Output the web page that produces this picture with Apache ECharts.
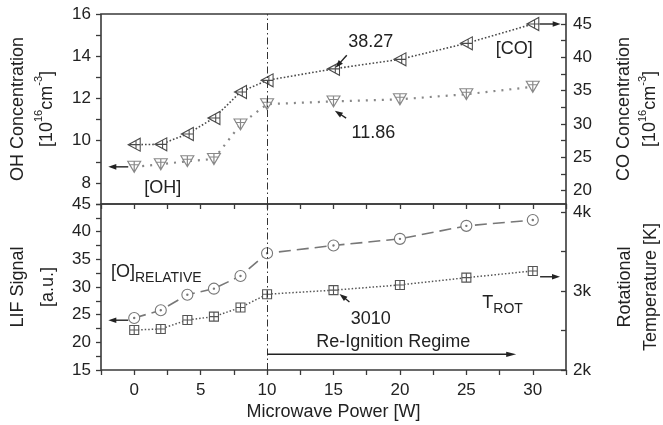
<!DOCTYPE html>
<html><head><meta charset="utf-8">
<script src="https://cdn.jsdelivr.net/npm/echarts@6/dist/echarts.min.js"></script>
<style>html,body{margin:0;padding:0;background:#fff}#c{width:663px;height:425px}</style>
</head><body><div id="c"></div>
<script>
// ---- data ----
const power = [0, 2, 4, 6, 8, 10, 15, 20, 25, 30];
const ohConc = [8.76, 8.88, 9.03, 9.13, 10.77, 11.73, 11.86, 11.96, 12.2, 12.55];
const coConc = [26.9, 26.95, 28.5, 30.9, 34.8, 36.55, 38.27, 39.7, 42.1, 45.0];
const oRel = [24.4, 25.8, 28.6, 29.7, 32.0, 36.1, 37.5, 38.7, 41.05, 42.1];
const tRot = [2506, 2519, 2633, 2675, 2791, 2959, 3010, 3076, 3168, 3253];
const xTickLabels = [0, 5, 10, 15, 20, 25, 30];
const ohTickLabels = [8, 10, 12, 14, 16];
const coTickLabels = [20, 25, 30, 35, 40, 45];
const coMinorTicks = [20, 22.5, 25, 27.5, 30, 32.5, 35, 37.5, 40, 42.5, 45];
const lifTickLabels = [15, 20, 25, 30, 35, 40, 45];
const tTickLabels = [2000, 3000, 4000];
const tMinorTicks = [2000, 2500, 3000, 3500, 4000];
const regimeStart = 10;

const FONT = '"Liberation Sans", Arial, Helvetica, sans-serif';
const TXT = '#222';
const FRAME = '#3a3a3a';

const sym = {
  triL: 'path://M10,0 L10,10 L0,5 Z M1,5 L10,5 M6.5,2 L6.5,8',
  triD: 'path://M0,0 L10,0 L5,10 Z M5,0 L5,10 M1,3.2 L9,3.2',
  sq: 'path://M0,0 L10,0 L10,10 L0,10 Z M5,0 L5,10 M0,5 L10,5',
  circ: 'path://M10,5 A5,5 0 1,1 0,5 A5,5 0 1,1 10,5 Z M5.6,5 A0.6,0.6 0 1,1 4.4,5 A0.6,0.6 0 1,1 5.6,5 Z'
};

const chart = echarts.init(document.getElementById('c'), null, {renderer: 'canvas'});

const gridStyle = {show: true, borderColor: FRAME, borderWidth: 1.6, backgroundColor: 'transparent',
  containLabel: false, outerBoundsMode: 'none'};
const labelStyle = {color: TXT, fontSize: 17, fontFamily: FONT};
const noLine = {show: false, onZero: false};
function rich(lh) {
  return {
    a: {fontSize: 18, fontFamily: FONT, color: TXT, lineHeight: lh},
    s: {fontSize: 11, fontFamily: FONT, color: TXT, lineHeight: 11, verticalAlign: 'top'}
  };
}

const option = {
  animation: false,
  backgroundColor: '#fff',
  textStyle: {fontFamily: FONT},
  grid: [
    Object.assign({left: 101, right: 97, top: 14, height: 190}, gridStyle),
    Object.assign({left: 101, right: 97, top: 204, height: 166}, gridStyle)
  ],
  xAxis: [
    {gridIndex: 0, type: 'value', min: -2.5, max: 32.5, interval: 2.5,
     axisLine: noLine, axisTick: {show: false}, axisLabel: {show: false}, splitLine: {show: false}},
    {gridIndex: 1, type: 'value', position: 'bottom', min: -2.5, max: 32.5, interval: 2.5,
     axisLine: noLine, splitLine: {show: false},
     axisTick: {show: true, inside: false, length: 5, lineStyle: {color: FRAME, width: 1.3}},
     axisLabel: Object.assign({margin: 12, formatter: v => xTickLabels.includes(v) ? String(v) : ''}, labelStyle),
     name: 'Microwave Power [W]', nameLocation: 'middle', nameGap: 33,
     nameTextStyle: {fontSize: 18, color: TXT, fontFamily: FONT}},
    {gridIndex: 1, type: 'value', position: 'top', min: -2.5, max: 32.5, interval: 2.5,
     axisLine: noLine, splitLine: {show: false}, axisLabel: {show: false},
     axisTick: {show: true, inside: true, length: 5, lineStyle: {color: FRAME, width: 1.3}}}
  ],
  yAxis: [
    {gridIndex: 0, type: 'value', position: 'left', min: 7, max: 16, interval: 1,
     axisLine: noLine, splitLine: {show: false},
     axisTick: {show: true, inside: false, length: 5, lineStyle: {color: FRAME, width: 1.3}},
     axisLabel: Object.assign({margin: 10, formatter: v => ohTickLabels.includes(v) ? String(v) : ''}, labelStyle),
     name: '{a|OH Concentration}\n{a|[10}{s|16}{a|cm}{s|-3}{a|]}', nameLocation: 'middle', nameRotate: 90, nameGap: 39,
     nameTextStyle: {rich: rich(29), align: 'center'}},
    {gridIndex: 0, type: 'value', position: 'right', min: 18, max: 46.5,
     axisLine: noLine, splitLine: {show: false},
     axisTick: {show: true, inside: true, length: 5, customValues: coMinorTicks, lineStyle: {color: FRAME, width: 1.3}},
     axisLabel: Object.assign({margin: 7, customValues: coTickLabels}, labelStyle),
     name: '{a|CO Concentration}\n{a|[10}{s|16}{a|cm}{s|-3}{a|]}', nameLocation: 'middle', nameRotate: 90, nameGap: 45,
     nameTextStyle: {rich: rich(26), align: 'center'}},
    {gridIndex: 1, type: 'value', position: 'left', min: 15, max: 45, interval: 2.5,
     axisLine: noLine, splitLine: {show: false},
     axisTick: {show: true, inside: false, length: 5, lineStyle: {color: FRAME, width: 1.3}},
     axisLabel: Object.assign({margin: 10, formatter: v => lifTickLabels.includes(v) ? String(v) : ''}, labelStyle),
     name: '{a|LIF Signal}\n{a|[a.u.]}', nameLocation: 'middle', nameRotate: 90, nameGap: 38,
     nameTextStyle: {rich: rich(30), align: 'center'}},
    {gridIndex: 1, type: 'value', position: 'right', min: 2000, max: 4100,
     axisLine: noLine, splitLine: {show: false},
     axisTick: {show: true, inside: true, length: 5, customValues: tMinorTicks, lineStyle: {color: FRAME, width: 1.3}},
     axisLabel: Object.assign({margin: 7, customValues: tTickLabels, formatter: v => (v / 1000) + 'k'}, labelStyle),
     name: '{a|Rotational}\n{a|Temperature [K]}', nameLocation: 'middle', nameRotate: 90, nameGap: 46,
     nameTextStyle: {rich: rich(26), align: 'center'}}
  ],
  series: [
    {name: 'CO', type: 'line', xAxisIndex: 0, yAxisIndex: 1, z: 3,
     data: power.map((x, i) => [x, coConc[i]]),
     symbol: sym.triL, symbolSize: [12, 13],
     lineStyle: {color: '#4a4a4a', width: 1.6, type: [1.6, 2]},
     itemStyle: {color: '#fff', borderColor: '#4a4a4a', borderWidth: 1.1}},
    {name: 'OH', type: 'line', xAxisIndex: 0, yAxisIndex: 0, z: 3,
     data: power.map((x, i) => [x, ohConc[i]]),
     symbol: sym.triD, symbolSize: [13, 11],
     lineStyle: {color: '#888', width: 2.2, type: [2, 6]},
     itemStyle: {color: '#fff', borderColor: '#888', borderWidth: 1.1},
     markLine: {silent: true, symbol: 'none', label: {show: false},
       lineStyle: {color: '#333', width: 1, type: [7, 3, 1.5, 3]}, data: [{xAxis: regimeStart}]}},
    {name: 'O', type: 'line', xAxisIndex: 1, yAxisIndex: 2, z: 3,
     data: power.map((x, i) => [x, oRel[i]]),
     symbol: sym.circ, symbolSize: 11,
     lineStyle: {color: '#777', width: 1.6, type: [12, 6]},
     itemStyle: {color: '#fff', borderColor: '#777', borderWidth: 1.1}},
    {name: 'T', type: 'line', xAxisIndex: 1, yAxisIndex: 3, z: 3,
     data: power.map((x, i) => [x, tRot[i]]),
     symbol: sym.sq, symbolSize: 9,
     lineStyle: {color: '#555', width: 1.5, type: [1.5, 2]},
     itemStyle: {color: '#fff', borderColor: '#555', borderWidth: 1.1},
     markLine: {silent: true, symbol: 'none', label: {show: false},
       lineStyle: {color: '#333', width: 1, type: [7, 3, 1.5, 3]}, data: [{xAxis: regimeStart}]}}
  ]
};
chart.setOption(option);

// ---- annotations positioned in data coordinates ----
const P = (xi, yi, x, y) => chart.convertToPixel({xAxisIndex: xi, yAxisIndex: yi}, [x, y]);
function arrow(p1, p2, head, w) {
  head = head || 8; w = w || 2.8;
  const dx = p2[0] - p1[0], dy = p2[1] - p1[1], L = Math.hypot(dx, dy), ux = dx / L, uy = dy / L;
  const bx = p2[0] - ux * head, by = p2[1] - uy * head;
  return [
    {type: 'line', silent: true, z: 10, shape: {x1: p1[0], y1: p1[1], x2: bx + ux, y2: by + uy}, style: {stroke: '#222', lineWidth: 1.4}},
    {type: 'polygon', silent: true, z: 10, shape: {points: [p2, [bx - uy * w, by + ux * w], [bx + uy * w, by - ux * w]]}, style: {fill: '#222'}}
  ];
}
function text(p, t, opts) {
  return Object.assign({type: 'text', silent: true, z: 10, x: p[0], y: p[1],
    style: Object.assign({text: t, fill: TXT, fontSize: 18, fontFamily: FONT, align: 'center', verticalAlign: 'middle'}, opts || {})});
}
const subRich = {
  b: {fontSize: 18, fontFamily: FONT, fill: TXT, lineHeight: 22, verticalAlign: 'top'},
  u: {fontSize: 14, fontFamily: FONT, fill: TXT, lineHeight: 14, padding: [12, 0, 0, 0], verticalAlign: 'bottom'}
};
const g = [];
g.push(text(P(0, 0, 17.8, 14.65), '38.27'));
g.push(...arrow(P(0, 0, 16.0, 14.05), P(0, 0, 15.15, 13.45)));
g.push(text(P(0, 0, 18.0, 10.36), '11.86'));
g.push(...arrow(P(0, 0, 15.95, 11.07), P(0, 0, 15.1, 11.42)));
g.push(text(P(0, 0, 28.6, 14.34), '[CO]'));
g.push(...arrow(P(0, 1, 30.5, coConc[9]), P(0, 1, 32.1, coConc[9])));
g.push(text(P(0, 0, 2.15, 7.76), '[OH]'));
g.push(...arrow(P(0, 0, -0.45, ohConc[0]), P(0, 0, -1.95, ohConc[0])));
g.push(text(P(1, 2, -1.75, 32.3), '{b|[O]}{u|RELATIVE}', {align: 'left', rich: subRich}));
g.push(...arrow(P(1, 2, -0.45, 24.0), P(1, 2, -1.95, 24.0)));
g.push(text(P(1, 2, 26.2, 26.7), '{b|T}{u|ROT}', {align: 'left', rich: subRich}));
g.push(...arrow(P(1, 2, 30.55, 31.85), P(1, 2, 32.05, 31.85)));
g.push(text(P(1, 2, 17.8, 24.2), '3010'));
g.push(...arrow(P(1, 2, 16.2, 27.3), P(1, 2, 15.45, 28.75)));
g.push(text(P(1, 2, 19.5, 20.06), 'Re-Ignition Regime'));
g.push(...arrow(P(1, 2, regimeStart, 17.84), P(1, 2, 28.75, 17.84), 10, 2.6));
chart.setOption({graphic: {elements: g}});
</script>
</body></html>
